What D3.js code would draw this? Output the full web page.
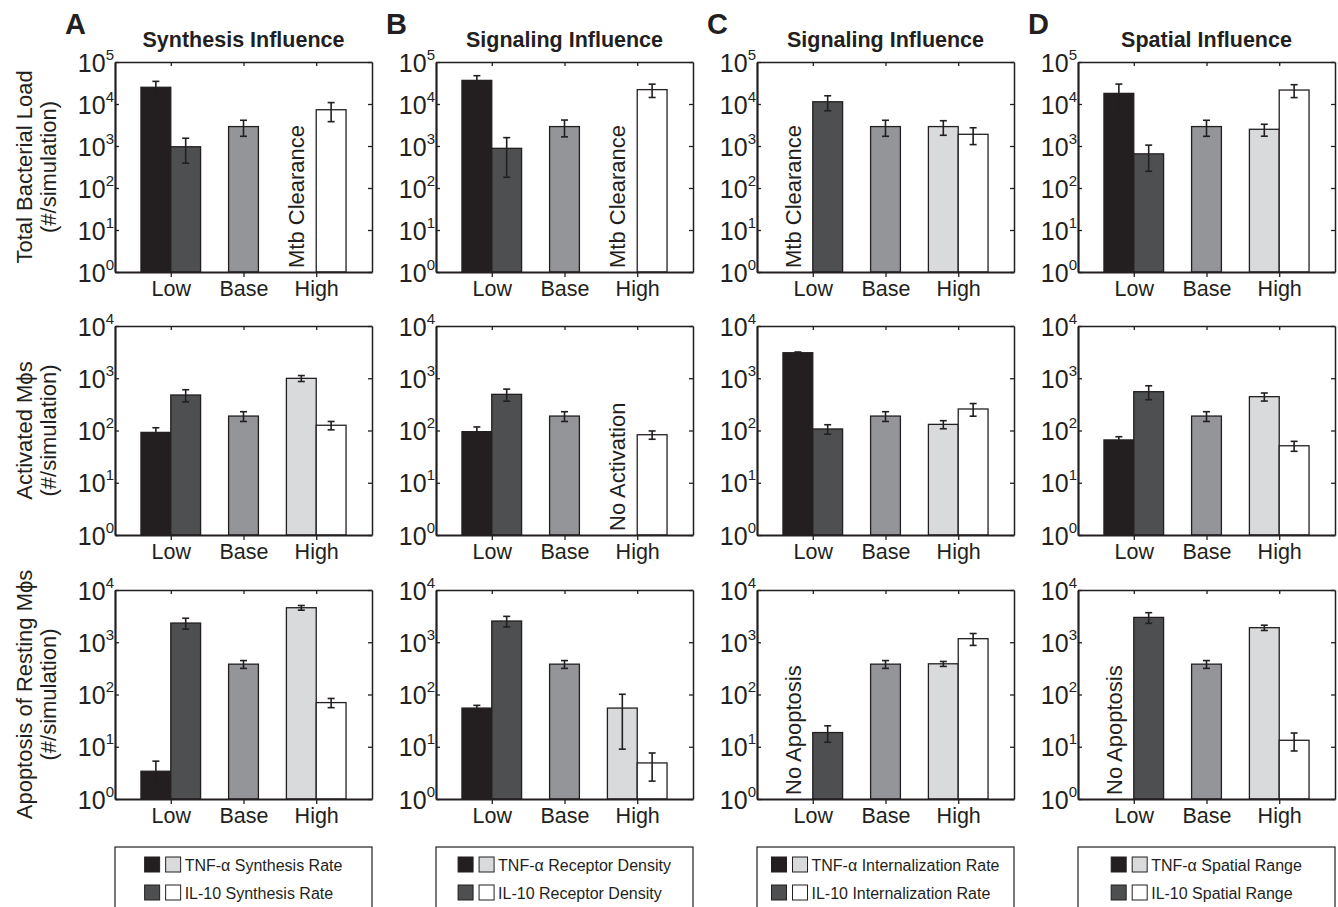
<!DOCTYPE html>
<html>
<head>
<meta charset="utf-8">
<script src="https://cdnjs.cloudflare.com/ajax/libs/d3/7.8.5/d3.min.js"></script>
<style>
  body { margin: 0; background: #fff; }
  text { font-family: "Liberation Sans", Arial, Helvetica, sans-serif; fill: #231f20; }
</style>
</head>
<body>
<div id="chart"></div>
<script>
const categories = ['Low', 'Base', 'High']
const panelLetters = ['A', 'B', 'C', 'D']
const panelTitles = ['Synthesis Influence', 'Signaling Influence', 'Signaling Influence', 'Spatial Influence']
const rowLabels = [
  ['Total Bacterial Load', '(#/simulation)'],
  ['Activated Mϕs', '(#/simulation)'],
  ['Apoptosis of Resting Mϕs', '(#/simulation)']
]
const rowNotes = ['Mtb Clearance', 'No Activation', 'No Apoptosis']
const rowMax = [1e5, 1e4, 1e4]

// each inner array: [TNF low, IL-10 low, base, TNF high, IL-10 high], null = no bar
const bacterialLoad = [
  [25000, 960, 2900, null, 7300],
  [36500, 880, 2900, null, 22000],
  [null, 11300, 2900, 2900, 1900],
  [17900, 650, 2900, 2500, 21500]
]
const bacterialLoadErr = [
  [9600, 570, 1200, 0, 3500],
  [10700, 700, 1250, 0, 7700],
  [0, 4400, 1200, 1100, 820],
  [11900, 400, 1200, 790, 7300]
]
const activatedMac = [
  [92, 478, 189, 996, 126],
  [95, 492, 189, null, 83],
  [3080, 107, 189, 131, 258],
  [66, 553, 189, 444, 51]
]
const activatedMacErr = [
  [21, 125, 40, 130, 23],
  [22, 128, 40, 0, 15],
  [100, 22, 40, 23, 70],
  [10, 165, 40, 78, 11]
]
const apoptosis = [
  [3.4, 2330, 381, 4580, 70],
  [55, 2550, 381, 55, 4.9],
  [null, 18.7, 381, 387, 1170],
  [null, 2990, 381, 1900, 13.3]
]
const apoptosisErr = [
  [1.9, 550, 65, 470, 14],
  [7, 580, 65, 46, 2.7],
  [0, 6.5, 65, 42, 300],
  [0, 690, 65, 220, 5]
]
const legendTnf = ['TNF-α Synthesis Rate', 'TNF-α Receptor Density', 'TNF-α Internalization Rate', 'TNF-α Spatial Range']
const legendIl10 = ['IL-10 Synthesis Rate', 'IL-10 Receptor Density', 'IL-10 Internalization Rate', 'IL-10 Spatial Range']

const barColors = ['#231f20', '#4d4f51', '#939598', '#d9dadb', '#ffffff']
const slotCat = [0, 0, 1, 2, 2]
const slotSide = [-0.5, 0.5, 0, -0.5, 0.5]
const ink = '#231f20'

const rowValues = [bacterialLoad, activatedMac, apoptosis]
const rowErrs = [bacterialLoadErr, activatedMacErr, apoptosisErr]
const rowTop = [62, 326, 590]
const rowH = [210, 209, 209]
const W = 257

const svg = d3.select('#chart').append('svg')
  .attr('width', 1338)
  .attr('height', 907)

for (let p = 0; p < 4; p++) {
  let left = 115 + p * 321

  svg.append('text')
    .attr('x', left - 50).attr('y', 34)
    .style('font-weight', 'bold').style('font-size', '29px')
    .text(panelLetters[p])

  svg.append('text')
    .attr('x', left + W / 2).attr('y', 47)
    .attr('text-anchor', 'middle')
    .style('font-weight', 'bold').style('font-size', '21.5px')
    .text(panelTitles[p])

  for (let r = 0; r < 3; r++) {
    let h = rowH[r]
    let g = svg.append('g').attr('transform', `translate(${left},${rowTop[r]})`)

    let x = d3.scalePoint().domain(categories).range([0, W]).padding(0.767)
    let y = d3.scaleLog().domain([1, rowMax[r]]).range([h, 0])
    let bw = x.step() * 0.41
    let decades = d3.range(0, Math.log10(rowMax[r]) + 1).map(e => Math.pow(10, e))

    let bars = rowValues[r][p].map((v, i) => ({ v: v, e: rowErrs[r][p][i], i: i }))
    let cx = d => x(categories[slotCat[d.i]]) + slotSide[d.i] * bw

    g.selectAll('rect.bar')
      .data(bars.filter(d => d.v != null))
      .enter().append('rect')
      .attr('class', 'bar')
      .attr('x', d => cx(d) - bw / 2)
      .attr('width', bw)
      .attr('y', d => y(d.v))
      .attr('height', d => h - y(d.v))
      .attr('fill', d => barColors[d.i])
      .attr('stroke', ink)
      .attr('stroke-width', 1.3)

    // error bars
    let eb = g.selectAll('g.err')
      .data(bars.filter(d => d.v != null && d.e > 0))
      .enter().append('g')
      .attr('class', 'err')
      .attr('stroke', ink)
      .attr('stroke-width', 1.6)
    let lo = d => y(Math.max(1, d.v - d.e))
    let hi = d => y(d.v + d.e)
    eb.append('line').attr('x1', cx).attr('x2', cx).attr('y1', lo).attr('y2', hi)
    eb.append('line').attr('x1', d => cx(d) - 3.5).attr('x2', d => cx(d) + 3.5).attr('y1', hi).attr('y2', hi)
    eb.append('line').attr('x1', d => cx(d) - 3.5).attr('x2', d => cx(d) + 3.5).attr('y1', lo).attr('y2', lo)

    // "no bar" notes
    g.selectAll('text.note')
      .data(bars.filter(d => d.v == null))
      .enter().append('text')
      .attr('class', 'note')
      .attr('transform', d => `translate(${cx(d) + 3},${h - 4}) rotate(-90)`)
      .style('font-size', '22px')
      .text(rowNotes[r])

    // axes
    let top = g.append('g').call(d3.axisTop(x).tickSizeInner(-4).tickSizeOuter(0).tickFormat(''))
    let right = g.append('g').attr('transform', `translate(${W},0)`)
      .call(d3.axisRight(y).tickValues(decades).tickSizeInner(-4).tickSizeOuter(0).tickFormat(''))
    let leftAx = g.append('g')
      .call(d3.axisLeft(y).tickValues(decades).tickSizeInner(-4).tickSizeOuter(0).tickPadding(1).tickFormat(''))
    let bottom = g.append('g').attr('transform', `translate(0,${h})`)
      .call(d3.axisBottom(x).tickSizeInner(5).tickSizeOuter(0).tickPadding(4))

    ;[top, right, leftAx, bottom].forEach(a => {
      a.selectAll('line').attr('stroke', ink).attr('stroke-width', 1.3)
      a.select('.domain').attr('stroke', ink)
    })
    top.select('.domain').attr('stroke-width', 1.5)
    right.select('.domain').attr('stroke-width', 1.5)
    leftAx.select('.domain').attr('stroke-width', 2.2)
    bottom.select('.domain').attr('stroke-width', 2.2)

    bottom.selectAll('text')
      .attr('fill', ink)
      .style('font-family', '"Liberation Sans", Arial, sans-serif')
      .style('font-size', '21.5px')

    leftAx.selectAll('.tick text')
      .attr('fill', ink)
      .attr('dy', '0.36em')
      .style('font-family', '"Liberation Sans", Arial, sans-serif')
      .style('font-size', '25px')
      .each(function (d) {
        let t = d3.select(this)
        t.append('tspan').text('10')
        t.append('tspan').attr('dy', '-0.8em').style('font-size', '15px').text(Math.round(Math.log10(d)))
      })

    // row labels on the first column
    if (p == 0) {
      rowLabels[r].forEach((line, k) => {
        svg.append('text')
          .attr('transform', `translate(${32 + k * 24},${rowTop[r] + h / 2}) rotate(-90)`)
          .attr('text-anchor', 'middle')
          .style('font-size', '22px')
          .text(line)
      })
    }
  }

  // legend box
  let lg = svg.append('g').attr('transform', `translate(${left},847)`)
  lg.append('rect')
    .attr('x', 0).attr('y', 0).attr('width', W).attr('height', 80)
    .attr('fill', 'none').attr('stroke', ink).attr('stroke-width', 1.2)

  let items = [
    { label: legendTnf[p], colors: [barColors[0], barColors[3]] },
    { label: legendIl10[p], colors: [barColors[1], barColors[4]] }
  ]
  let inner = lg.append('g')
  let rowsG = inner.selectAll('g.item').data(items).enter().append('g')
    .attr('class', 'item')
    .attr('transform', (d, i) => `translate(0,${10 + i * 28})`)
  rowsG.selectAll('rect').data(d => d.colors).enter().append('rect')
    .attr('x', (d, i) => i * 21).attr('y', 0)
    .attr('width', 15).attr('height', 15)
    .attr('fill', d => d).attr('stroke', ink).attr('stroke-width', 1)
  rowsG.append('text')
    .attr('x', 40).attr('y', 13.5)
    .style('font-size', '16px')
    .text(d => d.label)

  let maxW = d3.max(rowsG.selectAll('text').nodes(), n => n.getComputedTextLength())
  inner.attr('transform', `translate(${(W - (40 + maxW)) / 2},0)`)
}
</script>
</body>
</html>
